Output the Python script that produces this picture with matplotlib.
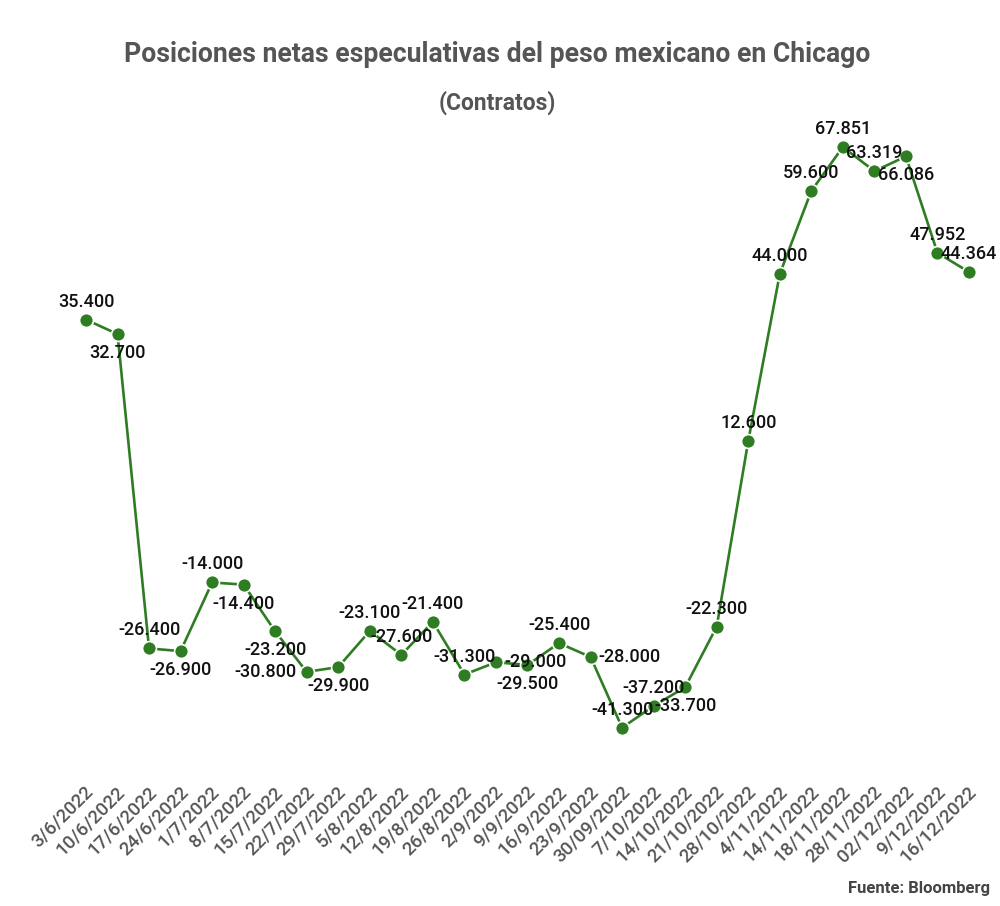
import numpy as np
import matplotlib.pyplot as plt
from matplotlib.transforms import blended_transform_factory

fechas = ["3/6/2022", "10/6/2022", "17/6/2022", "24/6/2022", "1/7/2022", "8/7/2022",
          "15/7/2022", "22/7/2022", "29/7/2022", "5/8/2022", "12/8/2022", "19/8/2022",
          "26/8/2022", "2/9/2022", "9/9/2022", "16/9/2022", "23/9/2022", "30/09/2022",
          "7/10/2022", "14/10/2022", "21/10/2022", "28/10/2022", "4/11/2022", "14/11/2022",
          "18/11/2022", "28/11/2022", "02/12/2022", "9/12/2022", "16/12/2022"]

contratos = [35400, 32700, -26400, -26900, -14000, -14400, -23200, -30800, -29900,
             -23100, -27600, -21400, -31300, -29000, -29500, -25400, -28000, -41300,
             -37200, -33700, -22300, 12600, 44000, 59600, 67851, 63319, 66086, 47952, 44364]

# where each value label sits relative to its point
posicion = ["above", "below", "above", "below", "above", "below", "below", "left", "below",
            "above", "above", "above", "above", "right", "below", "above", "right", "above",
            "above", "below", "above", "above", "above", "above", "above", "above", "below",
            "above", "above"]

VERDE = "#2e7d22"
GRIS = "#555555"


def formato(v):
    # thousands separator with a dot, spanish style
    s = "{:,.0f}".format(abs(v)).replace(",", ".")
    return "-" + s if v < 0 else s


def main():
    plt.rcParams['font.family'] = ['Roboto', 'DejaVu Sans']

    fig = plt.figure(figsize=(10, 9.06), dpi=100)
    ax = fig.add_axes([0, 1 - 785 / 906, 1, 785 / 906])

    x = np.arange(len(contratos))
    ax.plot(x, contratos, color=VERDE, linewidth=1.9, marker="o", markersize=10,
            markerfacecolor=VERDE, markeredgecolor="white", markeredgewidth=1.2, zorder=3)

    offsets = {"above": (0, 18, "center"), "below": (0, -19, "center"),
               "left": (-10, 0, "right"), "right": (8, 0, "left")}
    for xi, v, pos in zip(x, contratos, posicion):
        dx, dy, ha = offsets[pos]
        ax.annotate(formato(v), (xi, v), xytext=(dx, dy), textcoords="offset pixels",
                    ha=ha, va="center", fontsize=13, fontweight="medium",
                    color="#111111", zorder=4)

    # px per unit: x 31.54 px, y 0.00532 px
    ax.set_xlim(-86 / 31.54, 28 + 31 / 31.54)
    ax.set_ylim(-(785 - 508) / 0.00532, 508 / 0.00532)
    ax.axis("off")

    trans = blended_transform_factory(ax.transData, ax.transAxes)
    for xi, f in zip(x, fechas):
        ax.text(xi + 0.15, -0.005, f, transform=trans, rotation=45, rotation_mode="anchor",
                ha="right", va="center", fontsize=13.5, color=GRIS, fontweight="medium")

    fig.text(0.497, 1 - 55 / 906, "Posiciones netas especulativas del peso mexicano en Chicago",
             ha="center", va="center", fontsize=19.2, fontweight="bold", color=GRIS)
    fig.text(0.497, 1 - 103 / 906, "(Contratos)", ha="center", va="center",
             fontsize=16.5, fontweight="bold", color=GRIS)
    fig.text(0.99, 1 - 888 / 906, "Fuente: Bloomberg", ha="right", va="center",
             fontsize=12, fontweight="bold", color="#444444")

    fig.savefig("out.png", dpi=100, facecolor="white")


if __name__ == "__main__":
    main()
